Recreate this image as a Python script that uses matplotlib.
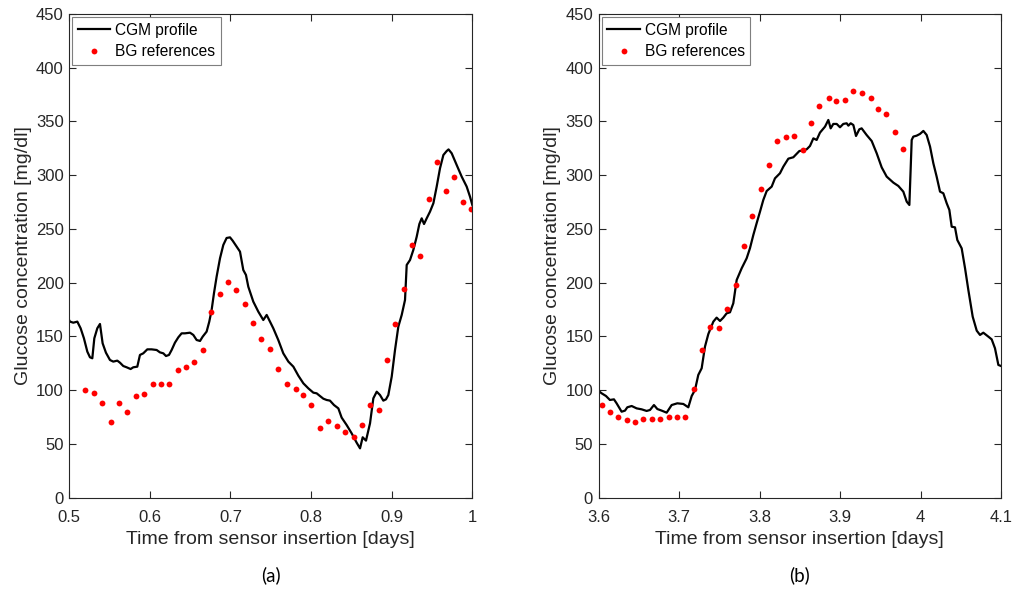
import matplotlib
matplotlib.use("Agg")
import matplotlib.pyplot as plt

# panel (a): CGM trace and BG references
cgm_a_t = [0.5, 0.5009, 0.5050, 0.5100, 0.5141, 0.5182, 0.5224, 0.5257, 0.5286, 0.5311,
           0.5348, 0.5381, 0.5414, 0.5455, 0.5505, 0.5546, 0.5596, 0.5629, 0.5670, 0.5712,
           0.5761, 0.5794, 0.5844, 0.5877, 0.5918, 0.5968, 0.6022, 0.6084, 0.6125, 0.6167,
           0.6200, 0.6237, 0.6270, 0.6311, 0.6353, 0.6394, 0.6435, 0.6498, 0.6539, 0.6580,
           0.6622, 0.6655, 0.6704, 0.6737, 0.6766, 0.6795, 0.6828, 0.6870, 0.6911, 0.6952,
           0.6994, 0.7027, 0.7077, 0.7118, 0.7159, 0.7192, 0.7221, 0.7283, 0.7345, 0.7407,
           0.7449, 0.7531, 0.7593, 0.7655, 0.7718, 0.7780, 0.7842, 0.7904, 0.7966, 0.8028,
           0.8069, 0.8110, 0.8152, 0.8193, 0.8234, 0.8284, 0.8338, 0.8379, 0.8441, 0.8503,
           0.8565, 0.8607, 0.8640, 0.8681, 0.8731, 0.8772, 0.8814, 0.8855, 0.8896, 0.8929,
           0.8958, 0.9000, 0.9041, 0.9082, 0.9124, 0.9165, 0.9186, 0.9227, 0.9268, 0.9310,
           0.9343, 0.9372, 0.9401, 0.9434, 0.9475, 0.9517, 0.9558, 0.9599, 0.9641, 0.9682,
           0.9705, 0.9744, 0.9806, 0.9868, 0.9930, 0.9971, 1.0]
cgm_a_g = [165, 163.8, 162.8, 163.8, 157.6, 148.3, 135.9, 130.6, 129.7, 148.3,
           157.6, 161.6, 143.6, 134.9, 128.1, 126.6, 127.5, 125.6, 122.5, 121.3,
           119.7, 121.3, 121.9, 132.8, 134.3, 138.0, 138.0, 137.4, 135.2, 134.3,
           131.8, 132.8, 137.4, 144.2, 149.2, 152.9, 152.9, 153.5, 151.4, 146.7,
           145.8, 149.8, 154.5, 163.8, 174.6, 190.1, 205.6, 222.7, 235.1, 241.6,
           242.2, 239.1, 233.5, 228.9, 211.8, 207.2, 196.3, 182.4, 173.1, 165.3,
           170.0, 157.6, 146.7, 134.3, 126.6, 121.9, 113.5, 106.4, 101.7, 97.7,
           97.1, 94.6, 92.1, 90.9, 90.3, 86.2, 83.1, 74.5, 67.6, 59.9,
           51.2, 45.9, 56.2, 53.1, 69.2, 92.4, 98.6, 95.5, 90.3, 91.5,
           95.5, 112.6, 137.4, 159.1, 170.0, 183.9, 216.5, 221.1, 230.4, 242.8,
           254.6, 259.9, 254.6, 259.9, 266.1, 273.9, 289.4, 306.4, 318.8, 322.5,
           324.0, 320.4, 309.5, 298.7, 289.4, 280.1, 272.3]
bg_a_t = [0.5199, 0.5302, 0.5406, 0.5513, 0.5617, 0.5720, 0.5823, 0.5927, 0.6034, 0.6138,
          0.6237, 0.6345, 0.6448, 0.6551, 0.6655, 0.6758, 0.6866, 0.6969, 0.7072, 0.7176,
          0.7279, 0.7383, 0.7486, 0.7589, 0.7697, 0.7813, 0.7904, 0.7999, 0.8111, 0.8210,
          0.8317, 0.8425, 0.8528, 0.8632, 0.8735, 0.8843, 0.8942, 0.9045, 0.9149, 0.9256,
          0.9351, 0.9463, 0.9566, 0.9670, 0.9773, 0.9880, 0.9988]
bg_a_g = [100.5, 97.4, 87.8, 70.7, 88.4, 80.0, 94.9, 96.2, 106.1, 106.1,
          105.5, 118.5, 121.6, 126.0, 137.1, 172.5, 189.8, 200.7, 193.2, 180.2,
          162.8, 147.6, 138.6, 119.7, 105.5, 101.4, 95.5, 86.2, 65.1, 71.6,
          66.7, 61.4, 56.2, 67.6, 86.0, 81.3, 127.8, 161.3, 193.9, 234.8,
          224.9, 277.9, 312.6, 285.6, 298.1, 274.8, 268.6]

# panel (b)
cgm_b_t = [3.6, 3.6037, 3.6091, 3.6140, 3.6190, 3.6223, 3.6285, 3.6327, 3.6356, 3.6410,
           3.6472, 3.6534, 3.6596, 3.6638, 3.6687, 3.6729, 3.6783, 3.6845, 3.6907, 3.6977,
           3.7052, 3.7114, 3.7156, 3.7197, 3.7238, 3.7280, 3.7321, 3.7363, 3.7425, 3.7466,
           3.7508, 3.7549, 3.7590, 3.7632, 3.7673, 3.7715, 3.7777, 3.7839, 3.7880, 3.7922,
           3.7963, 3.8005, 3.8046, 3.8088, 3.8150, 3.8191, 3.8253, 3.8295, 3.8357, 3.8419,
           3.8494, 3.8523, 3.8585, 3.8626, 3.8668, 3.8709, 3.8750, 3.8813, 3.8854, 3.8883,
           3.8916, 3.8958, 3.8999, 3.9040, 3.9082, 3.9103, 3.9132, 3.9165, 3.9198, 3.9239,
           3.9268, 3.9330, 3.9393, 3.9455, 3.9517, 3.9579, 3.9662, 3.9724, 3.9786, 3.9828,
           3.9861, 3.9890, 3.9910, 3.9952, 3.9993, 4.0035, 4.0076, 4.0118, 4.0159, 4.0200,
           4.0242, 4.0283, 4.0325, 4.0358, 4.0387, 4.0428, 4.0457, 4.0511, 4.0553, 4.0594,
           4.0648, 4.0698, 4.0739, 4.0780, 4.0843, 4.0884, 4.0925, 4.0967, 4.1]
cgm_b_g = [99.3, 97.1, 94.6, 90.9, 91.5, 87.8, 80.0, 81.0, 84.1, 85.3,
           83.1, 82.2, 80.7, 81.6, 86.2, 82.5, 81.0, 79.1, 86.2, 87.8,
           87.2, 84.1, 94.6, 100.2, 114.2, 120.4, 140.5, 152.3, 163.8, 167.5,
           164.4, 167.5, 171.5, 172.5, 180.8, 202.5, 213.4, 222.7, 232.0, 244.4,
           255.3, 266.1, 277.0, 285.3, 289.4, 297.1, 301.8, 308.0, 315.4, 316.7,
           322.5, 322.9, 324.1, 327.2, 334.3, 332.8, 339.6, 345.2, 351.4, 343.6,
           347.7, 347.7, 344.6, 347.7, 348.3, 346.1, 348.3, 346.7, 336.5, 342.7,
           343.6, 337.4, 331.8, 320.4, 307.3, 298.7, 293.1, 290.0, 284.7, 275.4,
           272.3, 332.8, 335.9, 336.8, 338.4, 341.2, 337.4, 326.6, 311.1, 298.7,
           284.7, 283.2, 273.9, 267.7, 252.1, 251.5, 239.7, 232.0, 213.4, 193.2,
           168.4, 155.4, 151.4, 153.5, 149.8, 147.3, 139.0, 123.5, 122.5]
bg_b_t = [3.6037, 3.6140, 3.6244, 3.6348, 3.6451, 3.6555, 3.6658, 3.6762, 3.6870, 3.6973,
          3.7077, 3.7180, 3.7284, 3.7387, 3.7491, 3.7595, 3.7702, 3.7802, 3.7909, 3.8013,
          3.8117, 3.8220, 3.8324, 3.8427, 3.8535, 3.8639, 3.8742, 3.8862, 3.8953, 3.9057,
          3.9161, 3.9277, 3.9380, 3.9471, 3.9575, 3.9678, 3.9782]
bg_b_g = [86.2, 79.7, 75.1, 72.3, 70.1, 73.5, 73.2, 73.2, 75.4, 75.1,
          75.4, 101.4, 137.7, 158.5, 158.2, 175.9, 197.6, 233.9, 262.4, 287.5,
          309.5, 332.2, 335.6, 336.5, 323.2, 348.3, 364.1, 371.5, 368.7, 370.3,
          378.7, 376.8, 371.5, 361.6, 357.3, 340.2, 324.4]

xticks_a = [0.5, 0.6, 0.7, 0.8, 0.9, 1.0]
xlabels_a = ['0.5', '0.6', '0.7', '0.8', '0.9', '1']
xticks_b = [3.6, 3.7, 3.8, 3.9, 4.0, 4.1]
xlabels_b = ['3.6', '3.7', '3.8', '3.9', '4', '4.1']
yticks = [0, 50, 100, 150, 200, 250, 300, 350, 400, 450]

plt.rcParams['font.family'] = ['Liberation Sans', 'DejaVu Sans']
ink = '#262626'

fig = plt.figure(figsize=(10.14, 5.92), dpi=100)
ax_a = fig.add_axes([0.0683, 0.1593, 0.3975, 0.8171])
ax_b = fig.add_axes([0.5904, 0.1593, 0.3968, 0.8171])

panels = [(ax_a, cgm_a_t, cgm_a_g, bg_a_t, bg_a_g, xticks_a, xlabels_a, '(a)'),
          (ax_b, cgm_b_t, cgm_b_g, bg_b_t, bg_b_g, xticks_b, xlabels_b, '(b)')]
for ax, ct, cg, bt, bgv, xt, xl, tag in panels:
    ax.plot(ct, cg, color='black', lw=1.6, label='CGM profile')
    ax.plot(bt, bgv, ls='none', marker='o', ms=4.2, mec='none', color='#ff0000', label='BG references')
    ax.set_xlim(xt[0], xt[-1])
    ax.set_ylim(0, 450)
    ax.set_xticks(xt)
    ax.set_xticklabels(xl)
    ax.set_yticks(yticks)
    ax.tick_params(direction='in', length=5, width=0.8, top=True, right=True,
                   labelsize=12, colors=ink, pad=4)
    ax.tick_params(axis='x', pad=9)
    for s in ax.spines.values():
        s.set_color(ink)
        s.set_linewidth(0.8)
    ax.set_xlabel('Time from sensor insertion [days]', fontsize=14, color=ink, labelpad=4)
    ax.set_ylabel('Glucose concentration [mg/dl]', fontsize=14, color=ink, labelpad=3)
    leg = ax.legend(loc='upper left', fontsize=11.2, handlelength=2.1, handletextpad=0.3,
                    borderpad=0.35, labelspacing=0.42, borderaxespad=0.2, fancybox=False,
                    framealpha=1, edgecolor='#7f7f7f', numpoints=1)
    leg.get_frame().set_linewidth(0.8)
    pos = ax.get_position()
    fig.text((pos.x0 + pos.x1) / 2, 1 - 575 / 592, tag, ha='center', va='center',
             fontsize=13.5, family=['Lato', 'DejaVu Sans'], color='black')

fig.savefig('out.png', dpi=100)
